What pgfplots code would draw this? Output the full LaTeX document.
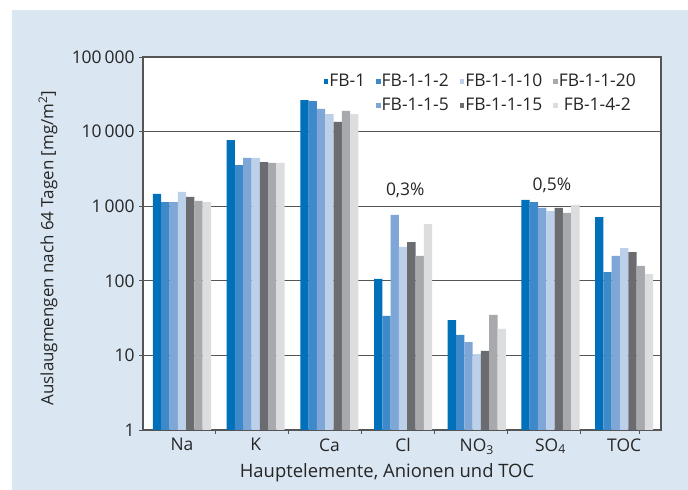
\documentclass[border=0pt]{standalone}
\usepackage{pgfplots}
\pgfplotsset{compat=1.18}
\usepackage{fontspec}
\setmainfont{Open Sans}
\definecolor{panel}{HTML}{DAE6F2}
\definecolor{c1}{HTML}{0070BA}
\definecolor{c2}{HTML}{3D89C9}
\definecolor{c3}{HTML}{7EA7D8}
\definecolor{c4}{HTML}{BCD0EA}
\definecolor{c5}{HTML}{6B6C70}
\definecolor{c6}{HTML}{A8A9AC}
\definecolor{c7}{HTML}{DCDDDF}
\definecolor{axgray}{HTML}{555555}
\newcommand{\fs}{\fontsize{17.5}{19}\selectfont}
\begin{document}
\begin{tikzpicture}[x=1bp,y=1bp]
\fill[white] (0,0) rectangle (688,490);
\fill[panel] (12,0) rectangle (688,480);
\begin{axis}[
  at={(143bp,60bp)}, anchor=south west,
  width=518bp, height=373bp, scale only axis,
  ymode=log, ymin=1, ymax=100000,
  xmin=-0.529, xmax=6.5,
  ybar=0pt, bar width=0.1126,
  axis background/.style={fill=white},
  ytick={1,10,100,1000,10000,100000},
  yticklabels={1,10,100,1\,000,10\,000,100\,000},
  yminorticks=false,
  xtick={0,1,2,3,4,5,6},
  xticklabels={Na,K,Ca,Cl,NO\textsubscript{3},SO\textsubscript{4},TOC},
  major x tick style={draw=none},
  minor xtick={0.46,1.44,2.44,3.43,4.41,5.40,6.21},
  minor x tick style={axgray, line width=0.8pt},
  minor tick length=4bp,
  major tick length=4bp,
  tick align=outside, tick pos=left,
  ytick style={axgray, line width=0.8pt},
  ymajorgrids, grid style={axgray, line width=0.8pt},
  axis line style={axgray, line width=1.2pt},
  tick label style={font=\fs, text=black!85},
  yticklabel style={xshift=-1bp},
  xticklabel style={yshift=-1bp},
  legend columns=4,
  legend style={at={(0.343,0.9635)}, anchor=north west, draw=none, fill=none,
    font=\fs, text=black!85,
    nodes={inner sep=1bp},
    /tikz/every even column/.append style={column sep=10bp},
    row sep=8bp},
  legend image code/.code={\fill[#1, draw=none] (0bp,-3bp) rectangle (4.5bp,1.5bp);},
]
\addplot[fill=c1, draw=none, forget plot, bar shift=-0.3378] coordinates {(0,1457) (1,7710) (2,26500) (3,106) (4,29.8) (5,1211) (6,716)};
\addplot[fill=c2, draw=none, forget plot, bar shift=-0.2252] coordinates {(0,1138) (1,3565) (2,25700) (3,33.8) (4,18.8) (5,1137) (6,131)};
\addplot[fill=c3, draw=none, forget plot, bar shift=-0.1126] coordinates {(0,1138) (1,4430) (2,20100) (3,762) (4,15.1) (5,946) (6,215)};
\addplot[fill=c4, draw=none, forget plot, bar shift=0] coordinates {(0,1550) (1,4430) (2,17200) (3,284) (4,10.4) (5,862) (6,275)};
\addplot[fill=c5, draw=none, forget plot, bar shift=0.1126] coordinates {(0,1330) (1,3910) (2,13450) (3,331) (4,11.5) (5,946) (6,243)};
\addplot[fill=c6, draw=none, forget plot, bar shift=0.2252] coordinates {(0,1175) (1,3795) (2,18900) (3,215) (4,34.8) (5,811) (6,158)};
\addplot[fill=c7, draw=none, forget plot, bar shift=0.3378] coordinates {(0,1138) (1,3795) (2,17200) (3,577) (4,22.6) (5,1038) (6,123)};
\addlegendimage{fill=c1}\addlegendentry{FB-1}
\addlegendimage{fill=c2}\addlegendentry{FB-1-1-2}
\addlegendimage{fill=c4}\addlegendentry{FB-1-1-10}
\addlegendimage{fill=c6}\addlegendentry{FB-1-1-20}
\addlegendimage{empty legend}\addlegendentry{}
\addlegendimage{fill=c3}\addlegendentry{FB-1-1-5}
\addlegendimage{fill=c5}\addlegendentry{FB-1-1-15}
\addlegendimage{fill=c7}\addlegendentry{FB-1-4-2}
\node[font=\fs, text=black!85] at (axis cs:3.03,1648) {0,3\%};
\node[font=\fs, text=black!85] at (axis cs:5.02,1893) {0,5\%};
\end{axis}
\node[rotate=90, font=\fontsize{17}{19}\selectfont, text=black!85] at (48,242) {Auslaugmengen nach 64 Tagen [mg/m\textsuperscript{2}]};
\node[font=\fontsize{18.5}{20}\selectfont, text=black!85] at (387,17) {Hauptelemente, Anionen und TOC};
\end{tikzpicture}
\end{document}
